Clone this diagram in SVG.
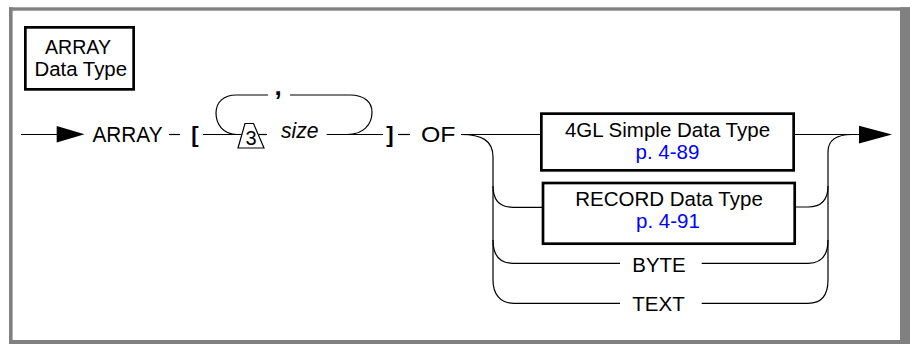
<svg xmlns="http://www.w3.org/2000/svg" width="910" height="344" viewBox="0 0 910 344">
<style>
.t{font-family:"Liberation Sans",Arial,Helvetica,sans-serif;font-size:21.5px;fill:#000}
.m{text-anchor:middle}
.bx{font-size:20.5px}
.tt{font-size:19.5px}
.lk{fill:#0000ff}
.b{font-weight:bold}
.i{font-style:italic}
.c{fill:none;stroke:#000;stroke-width:1.2}
.box{fill:#fff;stroke:#000;stroke-width:2.7}
.ah{fill:#000;stroke:none}
</style>
<rect width="910" height="344" fill="#fff"/>
<g id="frame" fill="#808080">
<rect x="9" y="7.3" width="901" height="3.4"/>
<rect x="9" y="7.3" width="3.6" height="336.7"/>
<rect x="900" y="7.3" width="10" height="336.7"/>
<rect x="9" y="340" width="901" height="4"/>
</g>
<g id="connectors">
<path class="c" d="M21,134.5 H58"/>
<polygon class="ah" points="56.7,126 84.5,134.3 56.7,142.5"/>
<path class="c" d="M169,134.5 H180"/>
<path class="c" d="M203,134.5 H242"/>
<path class="c" d="M259,134.5 H267"/>
<path class="c" d="M326.7,134.5 H383"/>
<path class="c" d="M398,134.5 H410"/>
<path class="c" d="M461,134.5 H541"/>
<path class="c" d="M795,134.5 H860"/>
<polygon class="ah" points="859,125.8 892,134.5 859,143.4"/>
<path class="c" d="M237,134.5 C223,134.5 216,124 216,113 C216,102 224,95 236,95 H268"/>
<path class="c" d="M290,95 H350 C364,95 372,102 372,112 C372,125 363,134.5 347,134.5"/>
<path class="c" d="M461,134.5 C481,134.5 493,140 493,157 V280 C493,294 500,303.3 514,303.3 H620"/>
<path class="c" d="M493,186 C493,200 499,207.3 513,207.3 H542"/>
<path class="c" d="M493,240 C493,255 499,263.3 513,263.3 H620"/>
<path class="c" d="M701.7,263.3 H808 C822,263.3 828,255 828,240"/>
<path class="c" d="M701.7,303.3 H808 C822,303.3 828,294 828,280 V152 C828,140 836,134.5 852,134.5"/>
<path class="c" d="M795,207 H808 C822,207 828,200 828,186"/>
</g>
<g id="title">
<rect class="box" x="25.35" y="27.35" width="108.3" height="62"/>
<text class="t tt" x="45" y="54" textLength="66" lengthAdjust="spacingAndGlyphs">ARRAY</text>
<text class="t tt" x="34.5" y="75.5" textLength="92.5" lengthAdjust="spacingAndGlyphs">Data Type</text>
</g>
<g id="kw-array"><text class="t" x="92.5" y="141.7" textLength="70" lengthAdjust="spacingAndGlyphs">ARRAY</text></g>
<g id="lbracket"><text class="t b m" x="195" y="141.7" style="font-size:22px">[</text></g>
<g id="sep-comma"><text class="t b m" x="278" y="94.5" style="font-size:26px">,</text></g>
<g id="limit-3">
<polygon fill="#fff" stroke="#000" stroke-width="1.2" points="245,123.5 253.5,123.5 264,148 238,148"/>
<text class="t m" x="251" y="145.3" style="font-size:20px">3</text>
</g>
<g id="size"><text class="t i" x="281" y="138.3" textLength="37.5" lengthAdjust="spacingAndGlyphs">size</text></g>
<g id="rbracket"><text class="t b m" x="390" y="141.7" style="font-size:22px">]</text></g>
<g id="kw-of"><text class="t" x="421" y="141.7" textLength="34.5" lengthAdjust="spacingAndGlyphs">OF</text></g>
<g id="simple">
<rect class="box" x="541.35" y="113.65" width="252.3" height="56.7"/>
<text class="t bx m" x="667.5" y="136.7">4GL Simple Data Type</text>
<text class="t bx m lk" x="667.5" y="159.3">p. 4-89</text>
</g>
<g id="record">
<rect class="box" x="543" y="183" width="251.7" height="60.7"/>
<text class="t bx m" x="669" y="206">RECORD Data Type</text>
<text class="t bx m lk" x="668" y="228.3">p. 4-91</text>
</g>
<g id="byte"><text class="t bx m" x="659" y="271.7">BYTE</text></g>
<g id="text"><text class="t bx m" x="658.5" y="310.7">TEXT</text></g>
</svg>
